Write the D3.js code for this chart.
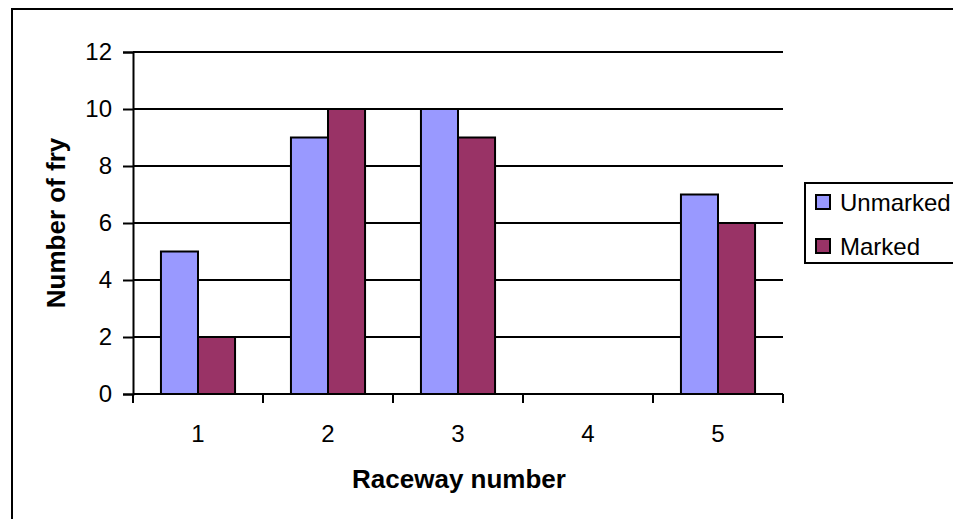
<!DOCTYPE html>
<html>
<head>
<meta charset="utf-8">
<script src="https://cdn.jsdelivr.net/npm/d3@7"></script>
<style>
  html, body { margin: 0; padding: 0; background: #fff; }
  svg { display: block; font-family: "Liberation Sans", Arial, sans-serif; }
</style>
</head>
<body>
<svg id="chart" width="953" height="519"></svg>
<script>
// Fry counts per raceway
const raceways = ["1", "2", "3", "4", "5"];
const unmarked = [5, 9, 10, 0, 7];
const marked = [2, 10, 9, 0, 6];
const seriesNames = ["Unmarked", "Marked"];
const seriesColors = ["#9999FF", "#993366"];
const yTicks = [0, 2, 4, 6, 8, 10, 12];

const svg = d3.select("#chart");
const W = 953, H = 519;

// chart frame (runs off the right and bottom edges)
svg.append("rect")
  .attr("x", 12).attr("y", 9)
  .attr("width", W + 20).attr("height", H + 20)
  .attr("fill", "#fff").attr("stroke", "#000").attr("stroke-width", 2);

const plot = { left: 133, right: 783, top: 52, bottom: 394 };

const x0 = d3.scaleBand().domain(raceways)
  .range([plot.left, plot.right])
  .paddingInner(0.43).paddingOuter(0.215);
const x1 = d3.scaleBand().domain(seriesNames).range([0, x0.bandwidth()]);
const y = d3.scaleLinear().domain([0, 12]).range([plot.bottom, plot.top]);

// horizontal gridlines
svg.append("g").selectAll("line")
  .data(yTicks.filter(d => d > 0))
  .join("line")
  .attr("x1", plot.left).attr("x2", plot.right)
  .attr("y1", d => y(d)).attr("y2", d => y(d))
  .attr("stroke", "#000").attr("stroke-width", 2);

// y axis
const yAxis = svg.append("g")
  .attr("transform", `translate(${plot.left},0)`)
  .call(d3.axisLeft(y).tickValues(yTicks).tickSize(10).tickPadding(11));
yAxis.select(".domain").attr("stroke", "#000").attr("stroke-width", 2);
yAxis.selectAll(".tick line").attr("stroke", "#000").attr("stroke-width", 2);
yAxis.selectAll(".tick text")
  .attr("font-size", 24).attr("font-family", "Liberation Sans, Arial, sans-serif")
  .attr("fill", "#000");

// bars
const groups = svg.append("g").selectAll("g")
  .data(raceways.map((r, i) => ({ r, vals: [unmarked[i], marked[i]] })))
  .join("g")
  .attr("transform", d => `translate(${x0(d.r)},0)`);

groups.selectAll("rect")
  .data(d => d.vals.map((v, k) => ({ v, k })).filter(e => e.v > 0))
  .join("rect")
  .attr("x", d => x1(seriesNames[d.k]))
  .attr("width", x1.bandwidth())
  .attr("y", d => y(d.v))
  .attr("height", d => y(0) - y(d.v))
  .attr("fill", d => seriesColors[d.k])
  .attr("stroke", "#000").attr("stroke-width", 2);

// x axis with ticks between categories
const xEdges = raceways.map(r => x0(r) - x0.step() * x0.paddingOuter()).concat([plot.right]);
svg.append("g").selectAll("line")
  .data(xEdges)
  .join("line")
  .attr("x1", d => d).attr("x2", d => d)
  .attr("y1", plot.bottom).attr("y2", plot.bottom + 9)
  .attr("stroke", "#000").attr("stroke-width", 2);
svg.append("line")
  .attr("x1", plot.left).attr("x2", plot.right)
  .attr("y1", plot.bottom).attr("y2", plot.bottom)
  .attr("stroke", "#000").attr("stroke-width", 2);
svg.append("g").selectAll("text")
  .data(raceways)
  .join("text")
  .attr("x", d => x0(d) + x0.bandwidth() / 2)
  .attr("y", 442)
  .attr("text-anchor", "middle")
  .attr("font-size", 24)
  .text(d => d);

// axis titles
svg.append("text")
  .attr("x", (plot.left + plot.right) / 2 + 1)
  .attr("y", 488)
  .attr("text-anchor", "middle")
  .attr("font-size", 26).attr("font-weight", "bold")
  .text("Raceway number");
svg.append("text")
  .attr("transform", `translate(65,${(plot.top + plot.bottom) / 2}) rotate(-90)`)
  .attr("text-anchor", "middle")
  .attr("font-size", 26).attr("font-weight", "bold")
  .text("Number of fry");

// legend
const legend = svg.append("g");
legend.append("rect")
  .attr("x", 805).attr("y", 183)
  .attr("width", 200).attr("height", 80)
  .attr("fill", "#fff").attr("stroke", "#000").attr("stroke-width", 2);
const entries = legend.selectAll("g.entry")
  .data(seriesNames)
  .join("g").attr("class", "entry")
  .attr("transform", (d, i) => `translate(816,${202 + i * 44})`);
entries.append("rect")
  .attr("x", 0).attr("y", -7)
  .attr("width", 14).attr("height", 14)
  .attr("fill", (d, i) => seriesColors[i])
  .attr("stroke", "#000").attr("stroke-width", 2);
entries.append("text")
  .attr("x", 24).attr("y", 8.5)
  .attr("font-size", 24)
  .text(d => d);
</script>
</body>
</html>
